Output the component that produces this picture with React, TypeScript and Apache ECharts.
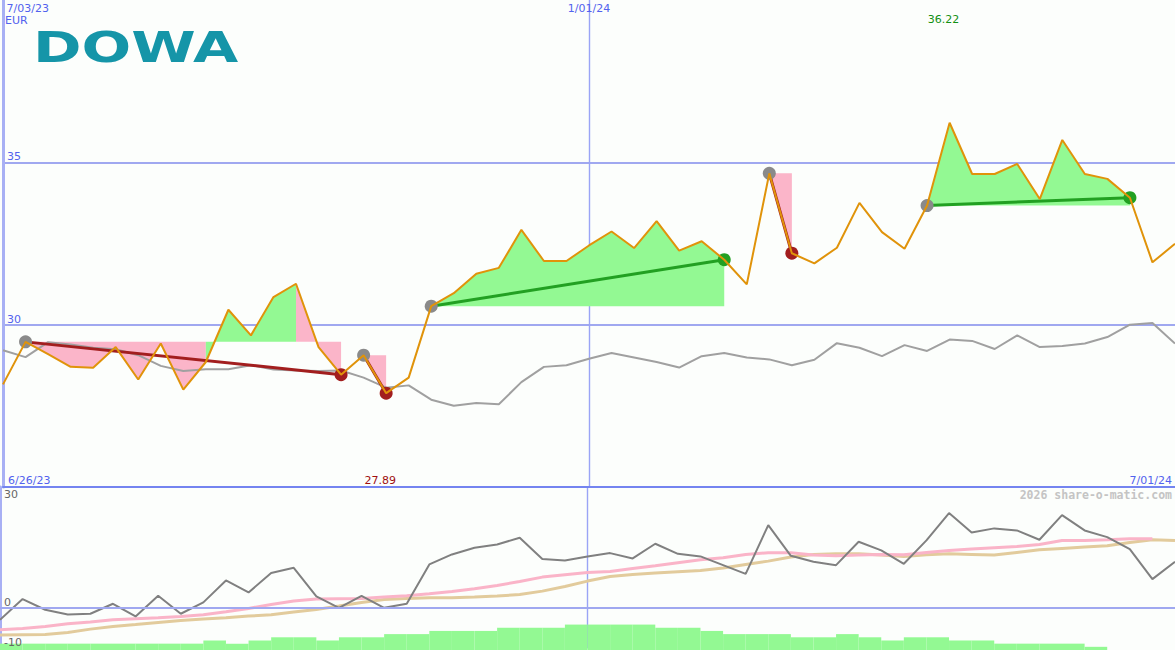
import React, { useEffect, useRef } from "react";
import * as echarts from "echarts";

// weekly categories (week starting)
const weeks = [
  "7/03/23", "7/10/23", "7/17/23", "7/24/23", "7/31/23", "8/07/23", "8/14/23", "8/21/23", "8/28/23",
  "9/04/23", "9/11/23", "9/18/23", "9/25/23", "10/02/23", "10/09/23", "10/16/23", "10/23/23", "10/30/23",
  "11/06/23", "11/13/23", "11/20/23", "11/27/23", "12/04/23", "12/11/23", "12/18/23", "12/25/23",
  "1/01/24", "1/08/24", "1/15/24", "1/22/24", "1/29/24", "2/05/24", "2/12/24", "2/19/24", "2/26/24",
  "3/04/24", "3/11/24", "3/18/24", "3/25/24", "4/01/24", "4/08/24", "4/15/24", "4/22/24", "4/29/24",
  "5/06/24", "5/13/24", "5/20/24", "5/27/24", "6/03/24", "6/10/24", "6/17/24", "6/24/24", "7/01/24",
];
const bins = weeks.slice(0, 52);

const periodStart = "6/26/23";
const periodEnd = "7/01/24";
const currency = "EUR";
const title = "DOWA";
const watermark = "2026 share-o-matic.com";

// weekly close (EUR)
const price = [
  28.16, 29.47, 29.09, 28.70, 28.67, 29.31, 28.31, 29.42, 28.00, 28.85,
  30.46, 29.67, 30.85, 31.26, 29.31, 28.46, 29.06, 27.89, 28.37, 30.57,
  30.97, 31.57, 31.75, 32.92, 31.96, 31.96, 32.44, 32.87, 32.36, 33.19,
  32.28, 32.57, 32.00, 31.24, 34.66, 32.20, 31.89, 32.37, 33.75, 32.85,
  32.34, 33.67, 36.22, 34.64, 34.64, 34.95, 33.87, 35.69, 34.64, 34.49,
  33.91, 31.92, 32.49,
];

// moving average shown in price panel
const avgLine = [
  29.21, 29.00, 29.46, 29.39, 29.29, 29.24, 29.06, 28.73, 28.57, 28.63,
  28.63, 28.75, 28.62, 28.59, 28.57, 28.59, 28.37, 28.06, 28.13, 27.69,
  27.50, 27.59, 27.55, 28.23, 28.70, 28.75, 28.95, 29.13, 28.99, 28.85,
  28.68, 29.03, 29.13, 28.99, 28.93, 28.75, 28.92, 29.43, 29.29, 29.03,
  29.37, 29.19, 29.54, 29.50, 29.25, 29.67, 29.31, 29.34, 29.42, 29.62,
  30.00, 30.05, 29.42,
];

// trades: entry week index, exit week index
const tradeEntries = [1, 16, 19, 34, 41];
const tradeExits = [15, 17, 32, 35, 50];

// lower panel indicator lines
const momentum = [
  -2.96, 2.14, -0.48, -1.64, -1.47, 0.99, -2.13, 2.96, -1.47, 1.33,
  6.74, 3.78, 8.55, 9.86, 2.79, 0.0, 2.96, 0.0, 0.99, 10.68,
  13.14, 14.78, 15.6, 17.24, 12.0, 11.67, 12.65, 13.47, 12.16, 15.77,
  13.3, 12.65, 10.5, 8.37, 20.37, 12.8, 11.33, 10.5, 16.26, 14.14,
  10.84, 16.6, 23.33, 18.57, 19.56, 19.06, 16.75, 22.83, 19.06, 17.41,
  14.46, 7.07, 11.33,
];
const pinkAvg = [
  -5.41, -5.08, -4.59, -3.93, -3.52, -2.95, -2.70, -2.45, -2.13, -1.72,
  -0.98, -0.16, 0.83, 1.65, 2.14, 2.22, 2.31, 2.64, 2.96, 3.46,
  4.03, 4.69, 5.51, 6.49, 7.56, 8.14, 8.71, 8.96, 9.70, 10.35,
  11.09, 11.83, 12.32, 13.15, 13.56, 13.56, 12.98, 12.82, 12.98, 13.15,
  13.06, 13.64, 14.13, 14.46, 14.79, 15.12, 15.61, 16.59, 16.59, 16.76,
  17.0, 17.0, null,
];
const tanAvg = [
  -6.72, -6.64, -6.56, -6.07, -5.25, -4.59, -4.10, -3.60, -3.11, -2.78,
  -2.46, -2.04, -1.72, -1.06, -0.40, 0.42, 1.32, 2.06, 2.31, 2.47,
  2.47, 2.64, 2.88, 3.29, 4.11, 5.26, 6.58, 7.73, 8.22, 8.55,
  8.88, 9.20, 9.78, 10.68, 11.50, 12.49, 13.15, 13.31, 13.31, 12.98,
  12.65, 13.06, 13.31, 13.15, 12.98, 13.64, 14.29, 14.62, 14.95, 15.28,
  16.10, 16.76, 16.59,
];
// weekly histogram (per week interval)
const histogram = [
  2, 2, 2, 2, 2, 2, 2, 2, 2, 3, 2, 3, 4, 4, 3, 4, 4, 5, 5, 6,
  6, 6, 7, 7, 7, 8, 8, 8, 8, 7, 7, 6, 5, 5, 5, 4, 4, 5, 4, 3,
  4, 4, 3, 3, 2, 2, 2, 2, 1, 0, 0, 0,
];

const GRID_BLUE = "#a0a8f0";
const AXIS_BLUE = "#7484f0";
const LABEL_BLUE = "#5262ee";
const FILL_GREEN = "#93f993";
const FILL_PINK = "#fbb5c9";
const WIN = "#22a022";
const LOSS = "#a21e1e";
const ORANGE = "#e0930a";
const FONT = '"DejaVu Sans", sans-serif';

export default function App() {
  const ref = useRef<HTMLDivElement>(null);

  useEffect(() => {
    if (!ref.current) return;
    const chart = echarts.init(ref.current, null, { renderer: "svg" });

    // contiguous runs of same-coloured fill between price and entry level
    const fillRuns: number[][] = [];
    tradeEntries.forEach((en, k) => {
      const ex = tradeExits[k];
      const level = price[en];
      let runStart = en;
      let runColor = price[en + 1] >= level ? 1 : 0;
      for (let i = en; i < ex; i++) {
        const c = price[i + 1] >= level ? 1 : 0;
        if (c !== runColor) {
          fillRuns.push([runStart, i, level, runColor]);
          runStart = i;
          runColor = c;
        }
      }
      fillRuns.push([runStart, ex, level, runColor]);
    });

    let maxIdx = 0;
    let minIdx = 0;
    price.forEach((v, i) => {
      if (v > price[maxIdx]) maxIdx = i;
      if (v < price[minIdx]) minIdx = i;
    });

    const trendSeries = tradeEntries.map((en, k) => {
      const ex = tradeExits[k];
      const win = price[ex] >= price[en];
      return {
        type: "line",
        xAxisIndex: 0,
        yAxisIndex: 0,
        data: [[en, price[en]], [ex, price[ex]]],
        symbol: "none",
        lineStyle: { color: win ? WIN : LOSS, width: 3 },
        z: 4,
        silent: true,
      };
    });

    const exitWin = tradeExits
      .map((ex, k) => (price[ex] >= price[tradeEntries[k]] ? [ex, price[ex]] : null))
      .filter(Boolean);
    const exitLoss = tradeExits
      .map((ex, k) => (price[ex] < price[tradeEntries[k]] ? [ex, price[ex]] : null))
      .filter(Boolean);

    const option: any = {
      animation: false,
      backgroundColor: "#fcfefc",
      grid: [
        { left: 0, right: 0, top: -1, height: 488 },
        { left: 0, right: 0, top: 486, height: 162.4 },
        { left: 0, right: 0, top: 487, height: 163 },
      ],
      xAxis: [
        {
          gridIndex: 0,
          type: "category",
          data: weeks,
          boundaryGap: false,
          axisLine: { show: true, lineStyle: { color: AXIS_BLUE, width: 2 } },
          axisTick: { show: false },
          axisLabel: { show: false },
          splitLine: {
            show: true,
            interval: (i: number) => i === 26,
            lineStyle: { color: "#9aa4f6", width: 1.4 },
          },
        },
        {
          gridIndex: 0,
          type: "category",
          data: weeks,
          boundaryGap: false,
          position: "top",
          axisLine: { show: false },
          axisTick: { show: false },
          splitLine: { show: false },
          axisLabel: {
            show: true,
            inside: true,
            margin: 3,
            interval: (i: number) => i === 0 || i === 26,
            alignMinLabel: "left",
            formatter: (v: string, i: number) => (i === 0 ? "\u00a0" + v : v),
            color: LABEL_BLUE,
            fontSize: 11,
            fontFamily: FONT,
          },
        },
        {
          gridIndex: 1,
          type: "category",
          data: weeks,
          boundaryGap: false,
          axisLine: { show: false },
          axisTick: { show: false },
          axisLabel: { show: false },
          splitLine: {
            show: true,
            interval: (i: number) => i === 26,
            lineStyle: { color: "#9aa4f6", width: 1.4 },
          },
        },
        {
          gridIndex: 2,
          type: "category",
          data: bins,
          boundaryGap: true,
          show: false,
        },
      ],
      yAxis: [
        {
          gridIndex: 0,
          type: "value",
          min: 25,
          max: 40,
          interval: 5,
          axisLine: { show: true, lineStyle: { color: "#a8b0f4", width: 3 } },
          axisTick: { show: false },
          splitLine: {
            show: true,
            showMinLine: false,
            showMaxLine: false,
            lineStyle: { color: GRID_BLUE, width: 2 },
          },
          axisLabel: {
            inside: true,
            margin: 4,
            verticalAlign: "bottom",
            color: LABEL_BLUE,
            fontSize: 11,
            fontFamily: FONT,
            formatter: (v: number) => (v === 30 || v === 35 ? String(v) : ""),
          },
        },
        {
          gridIndex: 1,
          type: "value",
          position: "left",
          min: -10,
          max: 30,
          interval: 10,
          z: 10,
          axisLine: { show: false },
          axisTick: { show: false },
          splitLine: { show: false },
          axisLabel: {
            inside: true,
            margin: 4,
            verticalAlign: "bottom",
            color: "#666666",
            fontSize: 11,
            fontFamily: FONT,
            formatter: (v: number) => (v === 0 || v === -10 ? String(v) : ""),
          },
        },
        {
          gridIndex: 1,
          type: "value",
          position: "left",
          offset: 0,
          min: -10,
          max: 30,
          interval: 10,
          z: 10,
          axisLine: { show: false, onZero: false },
          axisTick: { show: false },
          splitLine: { show: false },
          axisLabel: {
            inside: true,
            margin: 4,
            verticalAlign: "top",
            padding: [3, 0, 0, 0],
            color: "#666666",
            fontSize: 11,
            fontFamily: FONT,
            formatter: (v: number) => (v === 30 ? "30" : ""),
          },
        },
        {
          gridIndex: 2,
          type: "value",
          position: "left",
          min: 0,
          max: 51.3,
          axisLine: { show: true, lineStyle: { color: "#a8b0f4", width: 3 } },
          axisTick: { show: false },
          axisLabel: { show: false },
          splitLine: { show: false },
        },
      ],
      series: [
        {
          type: "custom",
          xAxisIndex: 0,
          yAxisIndex: 0,
          data: fillRuns,
          encode: { x: [0, 1], y: 2 },
          silent: true,
          z: 1,
          renderItem: (params: any, api: any) => {
            const s = api.value(0);
            const e = api.value(1);
            const level = api.value(2);
            const pts: number[][] = [];
            for (let i = s; i <= e; i++) pts.push(api.coord([i, price[i]]));
            pts.push(api.coord([e, level]));
            pts.push(api.coord([s, level]));
            return {
              type: "polygon",
              shape: { points: pts },
              style: { fill: api.value(3) ? FILL_GREEN : FILL_PINK },
            };
          },
        },
        {
          type: "line",
          xAxisIndex: 0,
          yAxisIndex: 0,
          data: avgLine,
          symbol: "none",
          lineStyle: { color: "#a0a0a0", width: 2 },
          z: 2,
          silent: true,
        },
        ...trendSeries,
        {
          type: "scatter",
          xAxisIndex: 0,
          yAxisIndex: 0,
          data: tradeEntries.map((en) => [en, price[en]]),
          symbolSize: 13,
          itemStyle: { color: "#8a8a8a", opacity: 1 },
          z: 5,
          silent: true,
        },
        {
          type: "scatter",
          xAxisIndex: 0,
          yAxisIndex: 0,
          data: exitLoss,
          symbolSize: 13,
          itemStyle: { color: LOSS, opacity: 1 },
          z: 5,
          silent: true,
        },
        {
          type: "scatter",
          xAxisIndex: 0,
          yAxisIndex: 0,
          data: exitWin,
          symbolSize: 13,
          itemStyle: { color: WIN, opacity: 1 },
          z: 5,
          silent: true,
        },
        {
          type: "line",
          xAxisIndex: 0,
          yAxisIndex: 0,
          data: price,
          symbol: "none",
          lineStyle: { color: ORANGE, width: 2 },
          z: 6,
          silent: true,
        },
        {
          type: "custom",
          xAxisIndex: 0,
          yAxisIndex: 0,
          data: [
            [maxIdx, price[maxIdx], 1],
            [minIdx, price[minIdx], 0],
          ],
          encode: { x: 0, y: 1 },
          silent: true,
          z: 7,
          renderItem: (params: any, api: any) => {
            const idx = api.value(0);
            const v = api.value(1);
            const isMax = api.value(2) === 1;
            const x = api.coord([idx, v])[0] - 6;
            const y = isMax ? api.coord([idx, 40])[1] + 14 : api.coord([idx, 25])[1] - 1;
            return {
              type: "text",
              x,
              y,
              style: {
                text: v.toFixed(2),
                fill: isMax ? "#129012" : "#a01010",
                font: `11px ${FONT}`,
                align: "center",
                verticalAlign: isMax ? "top" : "bottom",
                textAlign: "center",
                textVerticalAlign: isMax ? "top" : "bottom",
              },
            };
          },
        },
        {
          type: "bar",
          xAxisIndex: 3,
          yAxisIndex: 3,
          data: histogram,
          barWidth: "100%",
          barCategoryGap: 0,
          itemStyle: { color: FILL_GREEN },
          z: 1,
          silent: true,
        },
        {
          type: "line",
          xAxisIndex: 2,
          yAxisIndex: 1,
          data: tanAvg,
          symbol: "none",
          lineStyle: { color: "#e2cb9c", width: 3 },
          z: 3,
          silent: true,
          markLine: {
            silent: true,
            symbol: "none",
            label: { show: false },
            lineStyle: { color: GRID_BLUE, width: 2, type: "solid" },
            data: [{ yAxis: 0 }],
          },
        },
        {
          type: "line",
          xAxisIndex: 2,
          yAxisIndex: 1,
          data: pinkAvg,
          symbol: "none",
          lineStyle: { color: "#fab4c8", width: 3 },
          z: 3,
          silent: true,
        },
        {
          type: "line",
          xAxisIndex: 2,
          yAxisIndex: 1,
          data: momentum,
          symbol: "none",
          lineStyle: { color: "#808080", width: 2 },
          z: 4,
          silent: true,
        },
      ],
      graphic: [
        {
          type: "text",
          x: 33,
          y: 25,
          scaleX: 1.36,
          style: {
            text: title,
            fill: "#1595a8",
            font: `bold 43px ${FONT}`,
          },
          z: 10,
        },
        {
          type: "text",
          x: 5,
          y: 15,
          style: { text: currency, fill: LABEL_BLUE, font: `11px ${FONT}` },
          z: 10,
        },
        {
          type: "text",
          x: 8,
          y: 486,
          style: {
            text: periodStart,
            fill: LABEL_BLUE,
            font: `11px ${FONT}`,
            verticalAlign: "bottom",
            textVerticalAlign: "bottom",
          },
          z: 10,
        },
        {
          type: "text",
          x: 1172,
          y: 486,
          style: {
            text: periodEnd,
            fill: LABEL_BLUE,
            font: `11px ${FONT}`,
            align: "right",
            textAlign: "right",
            verticalAlign: "bottom",
            textVerticalAlign: "bottom",
          },
          z: 10,
        },
        {
          type: "text",
          x: 1172,
          y: 489,
          style: {
            text: watermark,
            fill: "#c4c4c4",
            font: `bold 11.5px "DejaVu Sans Mono", monospace`,
            align: "right",
            textAlign: "right",
          },
          z: 10,
        },
      ],
    };

    chart.setOption(option);
    return () => chart.dispose();
  }, []);

  return (
    <div
      ref={ref}
      style={{ position: "fixed", left: 0, top: 0, width: 1175, height: 650 }}
    />
  );
}
